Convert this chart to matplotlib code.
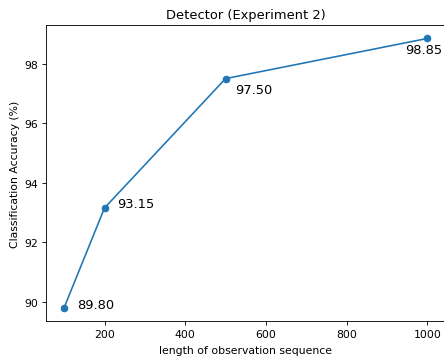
import matplotlib
matplotlib.use("Agg")
import matplotlib.pyplot as plt

seq_len = [100, 200, 500, 1000]
accuracy = [89.80, 93.15, 97.50, 98.85]
labels = ["89.80", "93.15", "97.50", "98.85"]
offsets_px = [(13, 0), (13, 1), (10, -14), (-22, -15)]

DPI = 78
fig = plt.figure(figsize=(444 / DPI, 360 / DPI), dpi=DPI)
ax = fig.add_axes([46 / 444, (360 - 322) / 360, (445.5 - 46) / 444, (322 - 26) / 360])
ax.plot(seq_len, accuracy, marker='o', color='#1f77b4')
for x, y, lab, off in zip(seq_len, accuracy, labels, offsets_px):
    ax.annotate(lab, (x, y), xytext=off, textcoords='offset pixels',
                fontsize=12, ha='left', va='baseline')
ax.set_xticks([200, 400, 600, 800, 1000])
ax.set_yticks([90, 92, 94, 96, 98])
ax.set_title("Detector (Experiment 2)")
ax.set_xlabel("length of observation sequence", labelpad=5.5)
ax.set_ylabel("Classification Accuracy (%)")
fig.savefig("out.png", dpi=DPI)
